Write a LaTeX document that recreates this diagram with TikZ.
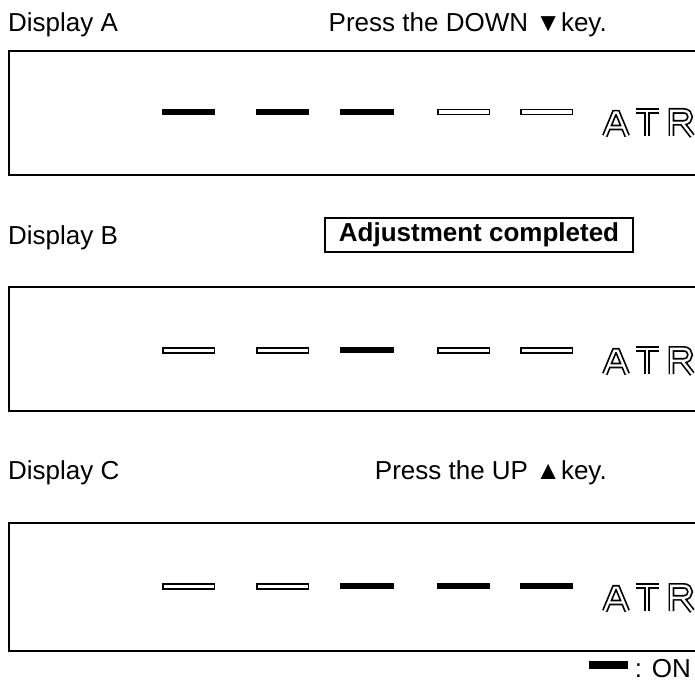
\documentclass[tikz,border=0pt]{standalone}
\usepackage{fontspec}
\setmainfont{Liberation Sans}
\begin{document}
\begin{tikzpicture}[x=1pt,y=-1pt,
  lbl/.style={anchor=base west,inner sep=0pt,font=\fontsize{26}{31}\selectfont},
  rlbl/.style={anchor=base east,inner sep=0pt,font=\fontsize{26}{31}\selectfont},
  panel/.style={draw=black,line width=2.2pt,anchor=north west,minimum width=730pt,inner sep=0pt},
  segon/.style={fill=black},
  segoff/.style={draw=black,line width=1.5pt,fill=white},
  letterline/.style={draw=black,line width=1.7pt,double=white,double distance=2.4pt,line join=miter},
  pics/atr/.style={code={
    \draw[letterline] (2.8,28) -- (12.5,4.7) -- (15.5,4.7) -- (25.2,28) (7.5,19.5) -- (20.5,19.5);
    \draw[letterline] (33.5,2.9) -- (57,2.9) (45.25,2.9) -- (45.25,28);
    \draw[letterline] (69.4,28) -- (69.4,2.9) -- (81.5,2.9) .. controls (90.3,2.9) and (90.3,14.8) .. (81.5,14.8) -- (69.4,14.8) (80,14.8) -- (90.3,28);
  }}]
\useasboundingbox (0,0) rectangle (695,684);
\clip (0,0) rectangle (695,684);

% Display A
\node[lbl] (dA) at (8,32) {Display A};
\node[rlbl] (pA) at (607,32) {Press the DOWN ▼key.};
\node[panel,minimum height=124pt] (boxA) at (8,50) {};
\fill[segon] (162,109) rectangle (215,115);
\fill[segon] (256,109) rectangle (309,115);
\fill[segon] (340,109) rectangle (394,115);
\draw[segoff] (437.75,109.75) rectangle (489.25,114.75);
\draw[segoff] (520.75,109.75) rectangle (572.25,114.75);
\pic at (602,108) {atr};

% Display B
\node[lbl] (dB) at (8,245) {Display B};
\node[draw=black,line width=1.6pt,minimum width=308pt,minimum height=34pt,inner sep=0pt,
      font=\bfseries\fontsize{26}{31}\selectfont] (adj) at (479,235) {Adjustment completed};
\node[panel,minimum height=124pt] (boxB) at (8,286) {};
\draw[segoff] (162.75,347.75) rectangle (214.25,352.75);
\draw[segoff] (256.75,347.75) rectangle (308.25,352.75);
\fill[segon] (340,347) rectangle (394,353);
\draw[segoff] (437.75,347.75) rectangle (489.25,352.75);
\draw[segoff] (520.75,347.75) rectangle (572.25,352.75);
\pic at (602,346) {atr};

% Display C
\node[lbl] (dC) at (8,479) {Display C};
\node[rlbl] (pC) at (607,479) {Press the UP ▲key.};
\node[panel,minimum height=128pt] (boxC) at (8,522) {};
\draw[segoff] (162.75,583.75) rectangle (214.25,588.75);
\draw[segoff] (256.75,583.75) rectangle (308.25,588.75);
\fill[segon] (340,583) rectangle (394,589);
\fill[segon] (437,583) rectangle (490,589);
\fill[segon] (520,583) rectangle (573,589);
\pic at (602,583) {atr};

% Legend
\fill[segon] (589,661) rectangle (628,669);
\node[rlbl] (on) at (691,677) {: ON};
\end{tikzpicture}
\end{document}
